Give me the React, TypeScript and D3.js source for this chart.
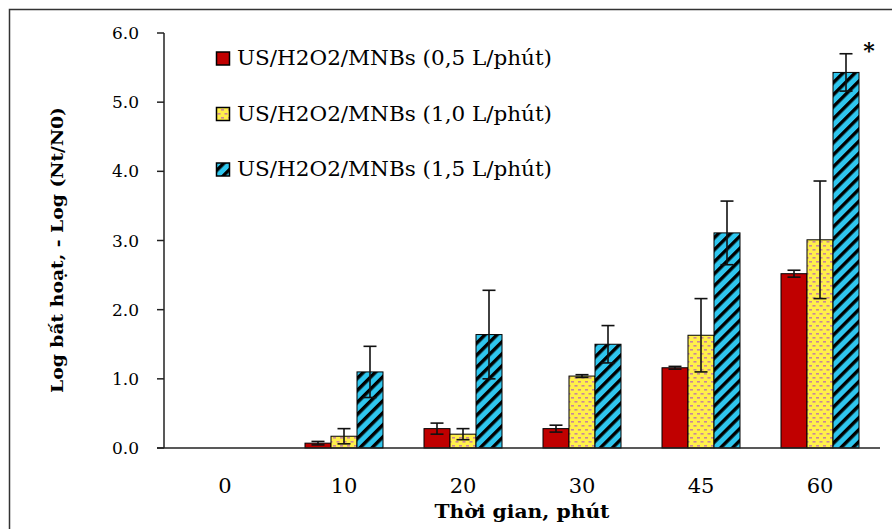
import React from "react";
import * as d3 from "d3";

const categories = ["0", "10", "20", "30", "45", "60"];
const seriesNames = [
  "US/H2O2/MNBs (0,5 L/phút)",
  "US/H2O2/MNBs (1,0 L/phút)",
  "US/H2O2/MNBs (1,5 L/phút)",
];
const red05 = [0, 0.07, 0.28, 0.28, 1.16, 2.52];
const red05Err = [0, 0.025, 0.08, 0.05, 0.02, 0.05];
const yellow10 = [0, 0.17, 0.2, 1.04, 1.63, 3.01];
const yellow10Err = [0, 0.11, 0.08, 0.02, 0.53, 0.85];
const blue15 = [0, 1.1, 1.64, 1.5, 3.11, 5.43];
const blue15Err = [0, 0.37, 0.64, 0.27, 0.46, 0.27];
const yTicks = [0, 1, 2, 3, 4, 5, 6];
const yTitle = "Log bất hoạt, - Log (Nt/N0)";
const xTitle = "Thời gian, phút";

const W = 892;
const H = 529;
const FONT = "'DejaVu Serif', serif";

export default function App() {
  const values = [red05, yellow10, blue15];
  const errs = [red05Err, yellow10Err, blue15Err];
  const fills = ["#C00000", "url(#dotYellow)", "url(#stripeBlue)"];

  const x = d3.scaleBand<string>().domain(categories).range([165.5, 879.5]).paddingInner(0).paddingOuter(0);
  const bw = x.bandwidth();
  const x1 = d3.scaleBand<number>().domain([0, 1, 2]).range([20.5, bw - 20.5]).padding(0);
  const y = d3.scaleLinear().domain([0, 6]).range([448, 33]);
  const axisLeft = 164;

  return (
    <svg width={W} height={H} style={{ position: "absolute", left: 0, top: 0, background: "#fff" }}>
      <defs>
        <pattern id="dotYellow" patternUnits="userSpaceOnUse" width="7" height="8">
          <rect width="7" height="8" fill="#FFF04A" />
          <rect x="0.5" y="1" width="3" height="1.6" fill="#C9879A" />
          <rect x="4" y="5" width="3" height="1.6" fill="#C9879A" />
        </pattern>
        <pattern id="stripeBlue" patternUnits="userSpaceOnUse" width="8.5" height="8.5" patternTransform="rotate(45)">
          <rect width="8.5" height="8.5" fill="#2FC6EE" />
          <rect x="0" y="0" width="3.4" height="8.5" fill="#000" />
        </pattern>
      </defs>

      {/* outer frame */}
      <path d={`M9.5,${H} V9.5 H${W}`} fill="none" stroke="#333" strokeWidth={1.5} />

      {/* bars */}
      {values.map((vals, s) =>
        vals.map((v, i) => {
          if (v <= 0) return null;
          const bx = (x(categories[i]) as number) + (x1(s) as number);
          const w = x1.bandwidth();
          return (
            <rect
              key={`b${s}-${i}`}
              x={bx}
              y={y(v)}
              width={w}
              height={y(0) - y(v)}
              fill={fills[s]}
              stroke="#000"
              strokeWidth={1}
            />
          );
        })
      )}

      {/* error bars */}
      {values.map((vals, s) =>
        vals.map((v, i) => {
          if (v <= 0) return null;
          const cx = (x(categories[i]) as number) + (x1(s) as number) + x1.bandwidth() / 2;
          const e = errs[s][i];
          const y1 = y(v + e);
          const y2 = y(v - e);
          return (
            <g key={`e${s}-${i}`} stroke="#111" strokeWidth={1.6}>
              <line x1={cx} x2={cx} y1={y1} y2={y2} />
              <line x1={cx - 6.5} x2={cx + 6.5} y1={y1} y2={y1} />
              <line x1={cx - 6.5} x2={cx + 6.5} y1={y2} y2={y2} />
            </g>
          );
        })
      )}

      {/* axes */}
      <line x1={axisLeft} x2={axisLeft} y1={y(6)} y2={y(0)} stroke="#222" strokeWidth={1.5} />
      <line x1={axisLeft - 7} x2={880} y1={y(0)} y2={y(0)} stroke="#222" strokeWidth={1.5} />
      {yTicks.map((t) => (
        <g key={`yt${t}`}>
          <line x1={axisLeft - 7} x2={axisLeft} y1={y(t)} y2={y(t)} stroke="#222" strokeWidth={1.5} />
          <text x={139} y={y(t)} dy="0.36em" textAnchor="end" fontFamily={FONT} fontSize={17} fill="#000">
            {t.toFixed(1)}
          </text>
        </g>
      ))}
      {categories.map((c) => (
        <text
          key={`xt${c}`}
          x={(x(c) as number) + bw / 2}
          y={493}
          textAnchor="middle"
          fontFamily={FONT}
          fontSize={21}
          fill="#000"
        >
          {c}
        </text>
      ))}

      {/* titles */}
      <text
        transform={`translate(57,250) rotate(-90)`}
        textAnchor="middle"
        dy="0.36em"
        fontFamily={FONT}
        fontWeight="bold"
        fontSize={17}
        textLength={286}
        lengthAdjust="spacingAndGlyphs"
        fill="#000"
      >
        {yTitle}
      </text>
      <text
        x={522}
        y={518}
        textAnchor="middle"
        fontFamily={FONT}
        fontWeight="bold"
        fontSize={19}
        textLength={175}
        lengthAdjust="spacingAndGlyphs"
        fill="#000"
      >
        {xTitle}
      </text>

      {/* asterisk */}
      <text x={869} y={58} textAnchor="middle" fontFamily={FONT} fontWeight="bold" fontSize={22} fill="#000">
        *
      </text>

      {/* legend */}
      {seriesNames.map((name, s) => {
        const base = 65 + s * 55.5;
        return (
          <g key={`lg${s}`}>
            <rect x={216.5} y={base - 13} width={13} height={13} fill={fills[s]} stroke="#000" strokeWidth={1.5} />
            <text
              x={237}
              y={base}
              fontFamily={FONT}
              fontSize={20}
              textLength={315}
              lengthAdjust="spacingAndGlyphs"
              fill="#000"
            >
              {name}
            </text>
          </g>
        );
      })}
    </svg>
  );
}
